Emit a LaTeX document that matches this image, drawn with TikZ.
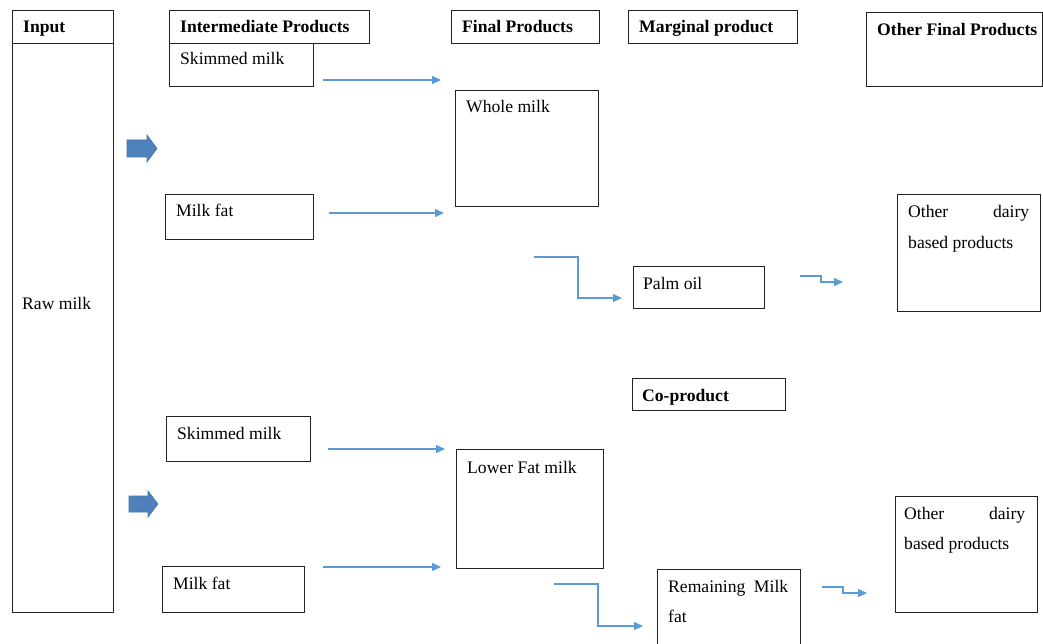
\documentclass[tikz,border=0pt]{standalone}
\usepackage{fontspec}
\setmainfont{Liberation Serif}
\usetikzlibrary{arrows.meta}
\definecolor{lineblue}{RGB}{91,155,213}
\definecolor{blockfill}{RGB}{79,129,189}
\definecolor{blockedge}{RGB}{65,113,165}
\definecolor{boxedge}{RGB}{35,35,35}
\begin{document}
\begin{tikzpicture}[x=1pt,y=-1pt,
  box/.style={draw=boxedge,line width=1.1pt,inner sep=0pt,anchor=north west},
  txt/.style={inner sep=0pt,anchor=base west,font=\fontsize{17.6}{21}\selectfont},
  hdr/.style={txt,font=\fontsize{17.6}{21}\selectfont\bfseries},
  flow/.style={draw=lineblue,line width=1.3pt,-{Triangle[length=9pt,width=8pt]}},
  block/.style={fill=blockfill,draw=blockedge,line width=0.6pt}]
\useasboundingbox (0,0) rectangle (1043,644);
\clip (0,0) rectangle (1043,644);
% boxes
\node[box,minimum width=101pt,minimum height=33pt] (inHead) at (12,10) {};
\node[box,minimum width=101pt,minimum height=569pt] (inBody) at (12,43) {};
\node[box,minimum width=200pt,minimum height=33pt] (intHead) at (169,10) {};
\node[box,minimum width=144pt,minimum height=43pt] (skim1) at (169,43) {};
\node[box,minimum width=148pt,minimum height=45pt] (fat1) at (165,194) {};
\node[box,minimum width=148pt,minimum height=33pt] (finHead) at (451,10) {};
\node[box,minimum width=169pt,minimum height=33pt] (margHead) at (628,10) {};
\node[box,minimum width=176pt,minimum height=74pt] (othHead) at (866,12) {};
\node[box,minimum width=143pt,minimum height=116pt] (whole) at (455,90) {};
\node[box,minimum width=131pt,minimum height=42pt] (palm) at (633,266) {};
\node[box,minimum width=143pt,minimum height=117pt] (dairy1) at (897,194) {};
\node[box,minimum width=153pt,minimum height=32pt] (coHead) at (632,378) {};
\node[box,minimum width=144pt,minimum height=45pt] (skim2) at (166,416) {};
\node[box,minimum width=142pt,minimum height=46pt] (fat2) at (162,566) {};
\node[box,minimum width=147pt,minimum height=119pt] (lower) at (456,449) {};
\node[box,minimum width=143pt,minimum height=90pt] (remain) at (657,569) {};
\node[box,minimum width=142pt,minimum height=116pt] (dairy2) at (895,496) {};
% texts
\node[hdr] (tIn) at (23,33) {Input};
\node[hdr] (tInt) at (180,33) {Intermediate Products};
\node[txt] (tSk1) at (180,65) {Skimmed milk};
\node[txt] (tFat1) at (176,217) {Milk fat};
\node[hdr] (tFin) at (462,33) {Final Products};
\node[hdr] (tMarg) at (639,33) {Marginal product};
\node[hdr] (tOth) at (877,36) {Other Final Products};
\node[txt] (tWhole) at (466,113) {Whole milk};
\node[txt] (tD1a) at (908,218) {\hbox to 121pt{Other\hfill dairy}};
\node[txt] (tD1b) at (908,248) {based products};
\node[txt] (tPalm) at (643,289) {Palm oil};
\node[hdr] (tCo) at (642,401) {Co-product};
\node[txt] (tSk2) at (177,439) {Skimmed milk};
\node[txt] (tFat2) at (173,589) {Milk fat};
\node[txt] (tLow) at (467,473) {Lower Fat milk};
\node[txt] (tRem) at (668,592) {\hbox to 120pt{Remaining\hfill Milk}};
\node[txt] (tRem2) at (668,622) {fat};
\node[txt] (tD2a) at (904,519) {\hbox to 121pt{Other\hfill dairy}};
\node[txt] (tD2b) at (904,549) {based products};
\node[txt] (tRaw) at (22,309) {Raw milk};
% block arrows
\path[block] (127,140)--(147,140)--(147,135)--(157,148.5)--(147,162)--(147,157)--(127,157)--cycle;
\path[block] (129,496)--(148,496)--(148,491)--(158,504)--(148,517)--(148,512)--(129,512)--cycle;
% connectors
\coordinate (a1s) at (323,80);  \coordinate (a1e) at (441,80);
\coordinate (a2s) at (329,213); \coordinate (a2e) at (444,213);
\coordinate (e1s) at (534,257); \coordinate (e1e) at (622,298);
\coordinate (s1s) at (800,276); \coordinate (s1e) at (843,282);
\coordinate (a3s) at (328,449); \coordinate (a3e) at (445,449);
\coordinate (a4s) at (323,567); \coordinate (a4e) at (441,567);
\coordinate (e2s) at (554,584); \coordinate (e2e) at (643,626);
\coordinate (s2s) at (822,587); \coordinate (s2e) at (867,593);
\draw[flow] (a1s) -- (a1e);
\draw[flow] (a2s) -- (a2e);
\draw[flow] (e1s) -- ++(44,0) |- (e1e);
\draw[flow] (s1s) -- ++(21,0) |- (s1e);
\draw[flow] (a3s) -- (a3e);
\draw[flow] (a4s) -- (a4e);
\draw[flow] (e2s) -- ++(44,0) |- (e2e);
\draw[flow] (s2s) -- ++(21,0) |- (s2e);
\end{tikzpicture}
\end{document}
